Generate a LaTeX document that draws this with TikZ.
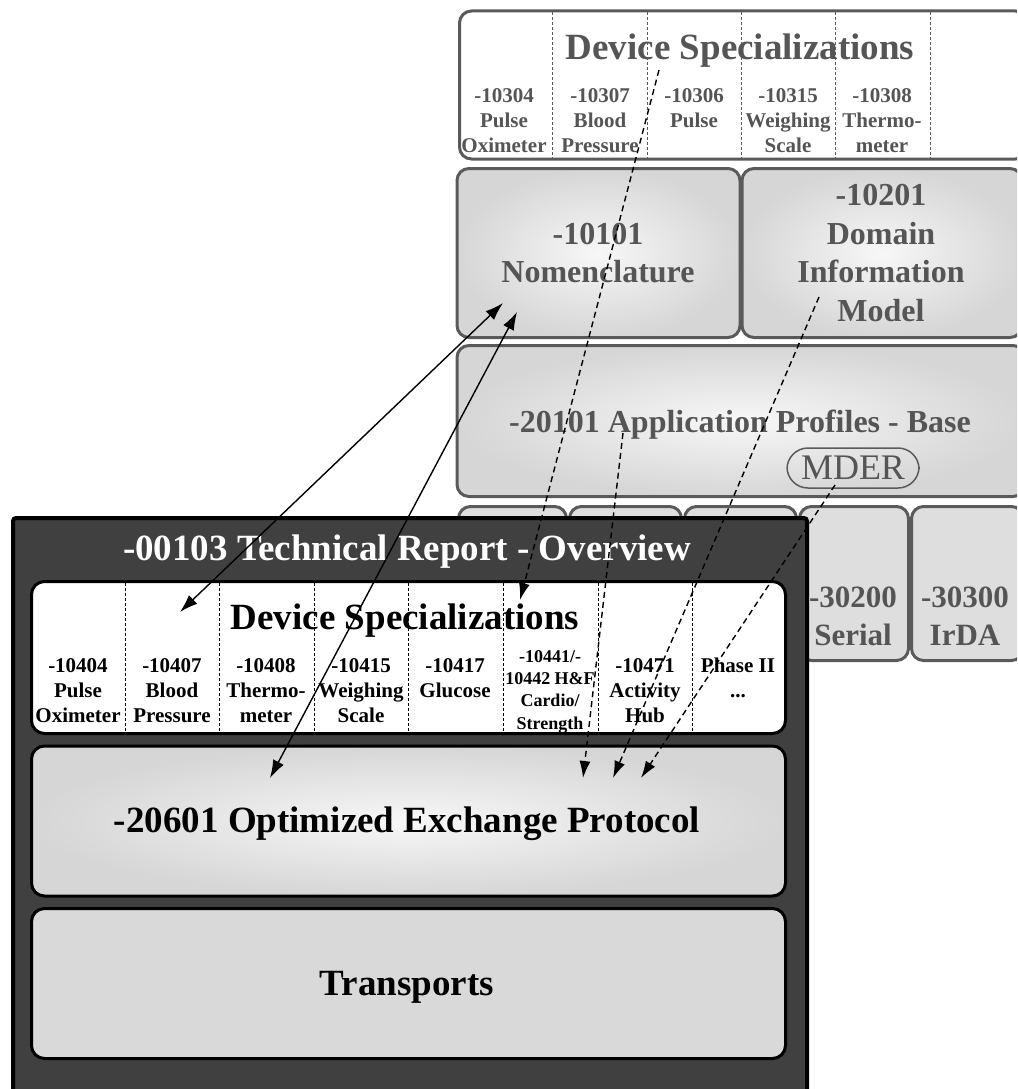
\documentclass[tikz,border=0pt]{standalone}
\usepackage{fontspec}
\setmainfont{Liberation Serif}
\usetikzlibrary{arrows.meta}
\definecolor{bgborder}{HTML}{5A5A5A}
\definecolor{bgtext}{HTML}{555555}
\definecolor{shin}{HTML}{F7F7F7}
\definecolor{shout}{HTML}{D6D6D6}
\definecolor{tfill}{HTML}{DEDEDE}
\definecolor{panelfill}{HTML}{404040}
\definecolor{ftfill}{HTML}{D9D9D9}
\newcommand\myfs[2]{\fontsize{#1}{#2}\selectfont}
\begin{document}
\begin{tikzpicture}[x=1pt,y=-1pt,
  backbox/.style={draw=bgborder, line width=3pt, rounded corners=12pt, inner sep=0pt},
  gradfill/.style={shading=radial, inner color=shin, outer color=shout},
  frontbox/.style={draw=black, line width=3pt, rounded corners=13pt, inner sep=0pt},
  divider/.style={line width=0.7pt, dash pattern=on 3pt off 2pt},
  bigtxt/.style={inner sep=0pt, font=\bfseries\myfs{37}{44}},
  midtxt/.style={inner sep=0pt, align=center, font=\bfseries\myfs{32}{38.5}},
  item/.style={anchor=north, align=center, inner sep=0pt, font=\bfseries\myfs{21}{25}},
  backtxt/.style={text=bgtext},
  solidarr/.style={line width=1.4pt, {Latex[length=18pt,width=12pt]}-{Latex[length=18pt,width=12pt]}},
  dasharr/.style={line width=1.4pt, dash pattern=on 6pt off 4pt, -{Latex[length=17pt,width=11pt]}},
]
\useasboundingbox (0,0) rectangle (1017,1089);
\clip (0,0) rectangle (1017,1089);
\fill[white] (0,0) rectangle (1017,1089);

% ---------- back stack ----------
\node[backbox, fill=white, minimum width=568, minimum height=148] (bds) at (743.5,85) {};
\foreach \x in {552,647,741,835,930}
  \draw[divider, draw=bgborder] (\x,12) -- (\x,158);
\node[bigtxt, backtxt, anchor=base] (bdstitle) at (740,60) {Device Specializations};
\node[item, backtxt] (b1) at (504,88) {-10304\\Pulse\\Oximeter};
\node[item, backtxt] (b2) at (600,88) {-10307\\Blood\\Pressure};
\node[item, backtxt] (b3) at (694,88) {-10306\\Pulse};
\node[item, backtxt] (b4) at (788,88) {-10315\\Weighing\\Scale};
\node[item, backtxt] (b5) at (882,88) {-10308\\Thermo-\\meter};

\node[backbox, gradfill, minimum width=283, minimum height=169] (nom) at (598.5,253) {};
\node[midtxt, backtxt, anchor=north] (nomtxt) at (598,223) {-10101\\Nomenclature};
\node[backbox, gradfill, minimum width=280, minimum height=169] (dim) at (882,253) {};
\node[midtxt, backtxt, anchor=north, font=\bfseries\myfs{32}{38.7}] (dimtxt) at (881,184) {-10201\\Domain\\Information\\Model};

\node[backbox, gradfill, minimum width=568, minimum height=151] (app) at (741,421) {};
\node[midtxt, backtxt, anchor=base] (apptxt) at (740,432) {-20101 Application Profiles - Base};
\node[draw=bgborder, line width=1.5pt, rounded corners=21pt, minimum width=132, minimum height=40,
      inner sep=0pt, text=bgtext, font=\myfs{36}{40}] (mder) at (853,468) {MDER};

\node[backbox, fill=tfill, minimum width=108, minimum height=154] (t1) at (512.5,583.5) {};
\node[backbox, fill=tfill, minimum width=112, minimum height=154] (t2) at (625.5,583.5) {};
\node[backbox, fill=tfill, minimum width=112, minimum height=154] (t3) at (740.5,583.5) {};
\node[backbox, fill=tfill, minimum width=109, minimum height=154] (t4) at (854,583.5) {};
\node[backbox, fill=tfill, minimum width=112, minimum height=154] (t5) at (967.5,583.5) {};
\node[midtxt, backtxt, anchor=north, font=\bfseries\myfs{31}{38}] (t4txt) at (853,587) {-30200\\Serial};
\node[midtxt, backtxt, anchor=north, font=\bfseries\myfs{31}{38}] (t5txt) at (965,587) {-30300\\IrDA};

% ---------- front panel ----------
\node[draw=black, line width=4pt, fill=panelfill, rounded corners=3pt, minimum width=794, minimum height=620,
      anchor=north west, inner sep=0pt] (panel) at (11,516) {};
\node[bigtxt, text=white, anchor=base] (ttl) at (407,560) {-00103 Technical Report - Overview};

\node[frontbox, fill=white, minimum width=754, minimum height=152] (fds) at (408.5,657.5) {};
\foreach \x in {125,219,314,408,503,598,692}
  \draw[divider, draw=black] (\x,583) -- (\x,733);
\node[bigtxt, anchor=base] (fdstitle) at (405,629) {Device Specializations};
\node[item] (f1) at (78,658) {-10404\\Pulse\\Oximeter};
\node[item] (f2) at (172,658) {-10407\\Blood\\Pressure};
\node[item] (f3) at (266,658) {-10408\\Thermo-\\meter};
\node[item] (f4) at (361,658) {-10415\\Weighing\\Scale};
\node[item] (f5) at (455,658) {-10417\\Glucose};
\node[item, font=\bfseries\myfs{18}{22.4}] (f6) at (550,650) {-10441/-\\10442 H\&F\\Cardio/\\Strength};
\node[item] (f7) at (645,658) {-10471\\Activity\\Hub};
\node[item] (f8) at (738,658) {Phase II\\...};

\node[frontbox, gradfill, minimum width=754, minimum height=150] (oep) at (408.5,821) {};
\node[bigtxt, anchor=base] (oeptxt) at (407,832) {-20601 Optimized Exchange Protocol};
\node[frontbox, fill=ftfill, minimum width=754, minimum height=150] (trn) at (408.5,983.5) {};
\node[bigtxt, anchor=base] (trntxt) at (407,995) {Transports};

% ---------- connectors ----------
\coordinate (a1s) at (180,612);
\coordinate (a1e) at (503,303);
\coordinate (a2s) at (270,778);
\coordinate (a2e) at (517,312);
\coordinate (d1s) at (659,70);
\coordinate (d1e) at (520,600);
\coordinate (d2s) at (623,433);
\coordinate (d2e) at (583,778);
\coordinate (d3s) at (819,297);
\coordinate (d3e) at (613,778);
\coordinate (d4s) at (835,485);
\coordinate (d4e) at (641,778);
\draw[solidarr] (a1s) -- (a1e);
\draw[solidarr] (a2s) -- (a2e);
\draw[dasharr] (d1s) -- (d1e);
\draw[dasharr] (d2s) -- (d2e);
\draw[dasharr] (d3s) -- (d3e);
\draw[dasharr] (d4s) -- (d4e);
\end{tikzpicture}
\end{document}
